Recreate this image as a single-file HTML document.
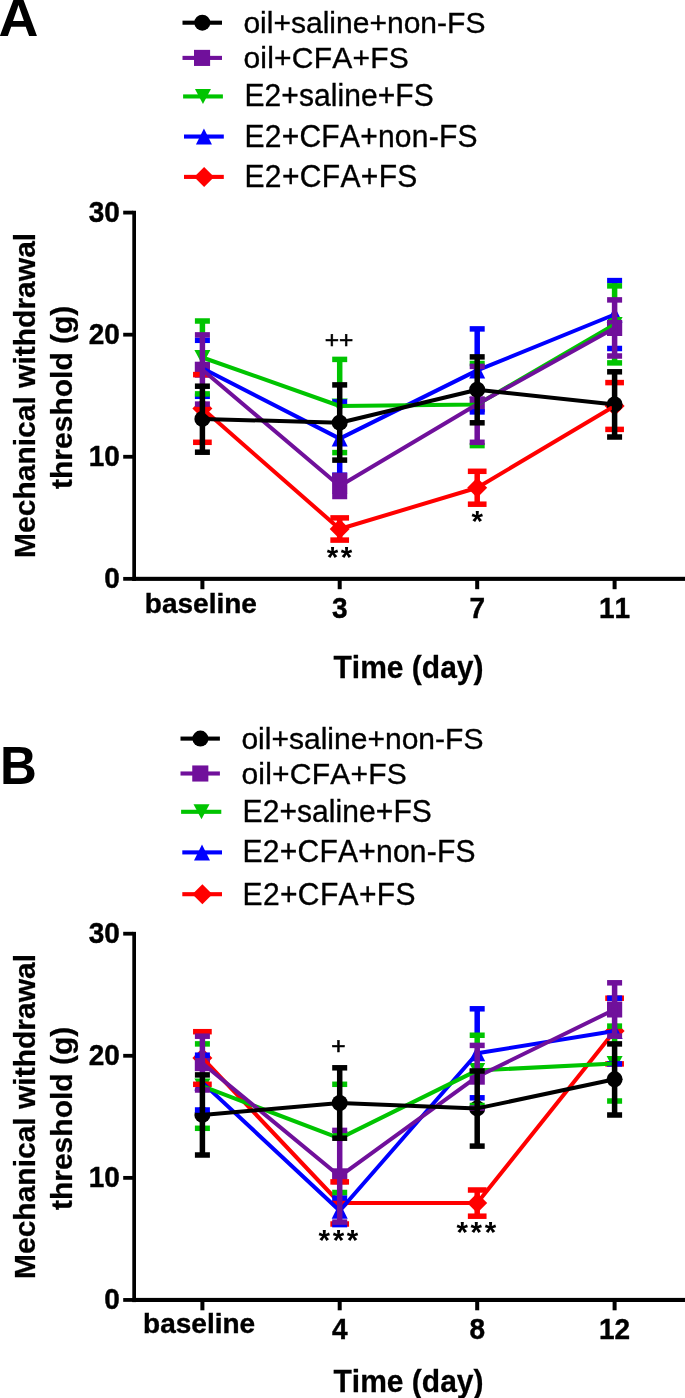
<!DOCTYPE html>
<html lang="en"><head><meta charset="utf-8"><title>Figure</title>
<style>
html,body{margin:0;padding:0;background:#fff}
svg{display:block}
text{font-kerning:none;font-family:"Liberation Sans",Arial,Helvetica,sans-serif;fill:#000}
.lg{font-size:30px;stroke:#000;stroke-width:0.35px}
.tk{font-size:28px;font-weight:bold;stroke:#000;stroke-width:0.4px}
.ax{font-size:30px;font-weight:bold;stroke:#000;stroke-width:0.25px}
.pl{font-size:51px;font-weight:bold}
.pls{font-size:24.5px;stroke:#000;stroke-width:0.6px}
.ast{font-size:29.5px;font-weight:bold;letter-spacing:2.7px}
</style></head><body>
<svg width="685" height="1398" viewBox="0 0 685 1398">
<rect width="685" height="1398" fill="#fff"/>
<rect x="182.5" y="20.65" width="39.5" height="4.1" fill="#000000"/>
<circle cx="202.3" cy="22.7" r="8" fill="#000000"/>
<text transform="translate(243.4 33)" class="lg" textLength="242">oil+saline+non-FS</text>
<rect x="182.5" y="55.85" width="39.5" height="4.1" fill="#70109b"/>
<rect x="194" y="49.85" width="16.1" height="16.1" fill="#70109b"/>
<text transform="translate(243.4 67.7) scale(1 1.01)" class="lg" textLength="165.4">oil+CFA+FS</text>
<rect x="183.1" y="94.4" width="39.8" height="4.1" fill="#00c400"/>
<polygon points="194.95,88.95 210.95,88.95 202.95,103.95" fill="#00c400"/>
<text transform="translate(244.5 106) scale(1 1.02)" class="lg" textLength="189.2">E2+saline+FS</text>
<rect x="184" y="134.5" width="39.8" height="4.1" fill="#0000ff"/>
<polygon points="195.95,144.55 211.95,144.55 203.95,128.55" fill="#0000ff"/>
<text transform="translate(244.5 146.6) scale(1 1.02)" class="lg" textLength="233">E2+CFA+non-FS</text>
<rect x="184" y="174.85" width="39.8" height="4.1" fill="#ff0000"/>
<polygon points="194.1,176.9 204.1,166.9 214.1,176.9 204.1,186.9" fill="#ff0000"/>
<text transform="translate(244.5 187.1) scale(1 1.02)" class="lg" textLength="172.9">E2+CFA+FS</text>
<g fill="#000">
<rect x="132.3" y="210.75" width="3.7" height="370.25"/>
<rect x="132.3" y="576.8" width="552.7" height="4.1"/>
<rect x="123.2" y="210.7" width="10" height="3.8"/>
<rect x="123.2" y="332.78" width="10" height="3.8"/>
<rect x="123.2" y="454.86" width="10" height="3.8"/>
<rect x="123.2" y="576.94" width="10" height="3.8"/>
<rect x="200.4" y="578.85" width="4" height="10.35"/>
<rect x="337.7" y="578.85" width="4" height="10.35"/>
<rect x="475.2" y="578.85" width="4" height="10.35"/>
<rect x="612.6" y="578.85" width="4" height="10.35"/>
</g>
<g>
<polygon points="192.4,408.6 202.4,398.6 212.4,408.6 202.4,418.6" fill="#ff0000"/>
<polygon points="329.7,529 339.7,519 349.7,529 339.7,539" fill="#ff0000"/>
<polygon points="467.2,487.75 477.2,477.75 487.2,487.75 477.2,497.75" fill="#ff0000"/>
<polygon points="604.6,406 614.6,396 624.6,406 614.6,416" fill="#ff0000"/>
<polygon points="194.4,376.3 210.4,376.3 202.4,360.3" fill="#0000ff"/>
<polygon points="331.7,446.6 347.7,446.6 339.7,430.6" fill="#0000ff"/>
<polygon points="469.2,378.4 485.2,378.4 477.2,362.4" fill="#0000ff"/>
<polygon points="606.6,322.5 622.6,322.5 614.6,306.5" fill="#0000ff"/>
<polygon points="194.4,350 210.4,350 202.4,365" fill="#00c400"/>
<polygon points="331.7,398.5 347.7,398.5 339.7,413.5" fill="#00c400"/>
<polygon points="469.2,397 485.2,397 477.2,412" fill="#00c400"/>
<polygon points="606.6,316.9 622.6,316.9 614.6,331.9" fill="#00c400"/>
<rect x="194.8" y="361.7" width="15.2" height="16" fill="#70109b"/>
<rect x="332.1" y="478" width="15.2" height="16" fill="#70109b"/>
<rect x="469.6" y="396.3" width="15.2" height="16" fill="#70109b"/>
<rect x="607" y="320" width="15.2" height="16" fill="#70109b"/>
<circle cx="202.4" cy="418.9" r="8" fill="#000000"/>
<circle cx="339.7" cy="422.7" r="8" fill="#000000"/>
<circle cx="477.2" cy="389.7" r="8" fill="#000000"/>
<circle cx="614.6" cy="404.4" r="8" fill="#000000"/>
</g>
<g fill="#ff0000" stroke="none">
<rect x="193.05" y="371.85" width="18.7" height="5.5"/>
<rect x="193.05" y="439.55" width="18.7" height="5.5"/>
<rect x="336.95" y="517.9" width="5.5" height="22.2"/>
<rect x="330.35" y="515.15" width="18.7" height="5.5"/>
<rect x="330.35" y="537.35" width="18.7" height="5.5"/>
<rect x="474.45" y="471.3" width="5.5" height="32.9"/>
<rect x="467.85" y="468.55" width="18.7" height="5.5"/>
<rect x="467.85" y="501.45" width="18.7" height="5.5"/>
<rect x="605.25" y="379.85" width="18.7" height="5.5"/>
<rect x="605.25" y="426.65" width="18.7" height="5.5"/>
</g>
<polyline points="202.4,408.6 339.7,529 477.2,487.75 614.6,406" fill="none" stroke="#ff0000" stroke-width="4" stroke-linejoin="round"/>
<g fill="#0000ff" stroke="none">
<rect x="194.9" y="337.55" width="15" height="5.5"/>
<rect x="194.9" y="393.55" width="15" height="5.5"/>
<rect x="336.95" y="459.8" width="5.5" height="15.4"/>
<rect x="332.2" y="399.25" width="15" height="5.5"/>
<rect x="332.2" y="472.45" width="15" height="5.5"/>
<rect x="474.45" y="328.9" width="5.5" height="28.3"/>
<rect x="469.7" y="326.15" width="15" height="5.5"/>
<rect x="469.7" y="409.15" width="15" height="5.5"/>
<rect x="611.85" y="280.6" width="5.5" height="5.6"/>
<rect x="607.1" y="277.85" width="15" height="5.5"/>
<rect x="607.1" y="345.75" width="15" height="5.5"/>
</g>
<polyline points="202.4,368.3 339.7,438.6 477.2,370.4 614.6,314.5" fill="none" stroke="#0000ff" stroke-width="4" stroke-linejoin="round"/>
<g fill="#00c400" stroke="none">
<rect x="199.65" y="321" width="5.5" height="14.2"/>
<rect x="194.9" y="318.25" width="15" height="5.5"/>
<rect x="194.9" y="391.15" width="15" height="5.5"/>
<rect x="336.95" y="359.4" width="5.5" height="25.8"/>
<rect x="332.2" y="356.65" width="15" height="5.5"/>
<rect x="332.2" y="449.85" width="15" height="5.5"/>
<rect x="474.45" y="442" width="5.5" height="3.6"/>
<rect x="469.7" y="360.75" width="15" height="5.5"/>
<rect x="469.7" y="442.85" width="15" height="5.5"/>
<rect x="611.85" y="285.9" width="5.5" height="14.3"/>
<rect x="611.85" y="355.7" width="5.5" height="7.2"/>
<rect x="607.1" y="283.15" width="15" height="5.5"/>
<rect x="607.1" y="360.15" width="15" height="5.5"/>
</g>
<polyline points="202.4,357.5 339.7,406 477.2,404.5 614.6,324.4" fill="none" stroke="#00c400" stroke-width="4" stroke-linejoin="round"/>
<g fill="#70109b" stroke="none">
<rect x="199.65" y="334.9" width="5.5" height="51.6"/>
<rect x="194.9" y="332.15" width="15" height="5.5"/>
<rect x="194.9" y="401.35" width="15" height="5.5"/>
<rect x="336.95" y="475.5" width="5.5" height="21"/>
<rect x="332.2" y="472.75" width="15" height="5.5"/>
<rect x="332.2" y="493.75" width="15" height="5.5"/>
<rect x="474.45" y="422.5" width="5.5" height="19.8"/>
<rect x="469.7" y="363.65" width="15" height="5.5"/>
<rect x="469.7" y="439.55" width="15" height="5.5"/>
<rect x="611.85" y="299.9" width="5.5" height="56.1"/>
<rect x="607.1" y="297.15" width="15" height="5.5"/>
<rect x="607.1" y="353.25" width="15" height="5.5"/>
</g>
<polyline points="202.4,369.7 339.7,486 477.2,404.3 614.6,328" fill="none" stroke="#70109b" stroke-width="4" stroke-linejoin="round"/>
<g fill="#000000" stroke="none">
<rect x="199.65" y="386.2" width="5.5" height="66"/>
<rect x="194.9" y="383.45" width="15" height="5.5"/>
<rect x="194.9" y="449.45" width="15" height="5.5"/>
<rect x="336.95" y="384.9" width="5.5" height="75.2"/>
<rect x="332.2" y="382.15" width="15" height="5.5"/>
<rect x="332.2" y="457.35" width="15" height="5.5"/>
<rect x="474.45" y="356.9" width="5.5" height="65.9"/>
<rect x="469.7" y="354.15" width="15" height="5.5"/>
<rect x="469.7" y="420.05" width="15" height="5.5"/>
<rect x="611.85" y="371.8" width="5.5" height="65.2"/>
<rect x="607.1" y="369.05" width="15" height="5.5"/>
<rect x="607.1" y="434.25" width="15" height="5.5"/>
</g>
<polyline points="202.4,418.9 339.7,422.7 477.2,389.7 614.6,404.4" fill="none" stroke="#000000" stroke-width="4" stroke-linejoin="round"/>
<text transform="translate(-1.4 36.4) scale(1.085 1.04)" class="pl">A</text>
<text transform="translate(119.9 221.7) scale(1 1.08)" class="tk" text-anchor="end">30</text>
<text transform="translate(119.9 343.78) scale(1 1.08)" class="tk" text-anchor="end">20</text>
<text transform="translate(119.9 465.86) scale(1 1.08)" class="tk" text-anchor="end">10</text>
<text transform="translate(119.9 587.94) scale(1 1.08)" class="tk" text-anchor="end">0</text>
<text transform="translate(200.9 612.8)" class="tk" text-anchor="middle">baseline</text>
<text transform="translate(339.7 618.2) scale(1 1.06)" class="tk" text-anchor="middle">3</text>
<text transform="translate(477.2 618.2) scale(1 1.06)" class="tk" text-anchor="middle">7</text>
<text transform="translate(614.6 618.2) scale(1 1.06)" class="tk" text-anchor="middle">11</text>
<text transform="translate(408.5 677.5) scale(1 1.02)" class="ax" text-anchor="middle">Time (day)</text>
<text transform="translate(35 395.4) rotate(-90)" class="ax" text-anchor="middle">Mechanical withdrawal</text>
<text transform="translate(72.3 397.3) rotate(-90)" class="ax" text-anchor="middle">threshold (g)</text>
<text transform="translate(339 348.4)" class="pls" text-anchor="middle">++</text>
<text transform="translate(340.85 567)" class="ast" text-anchor="middle">**</text>
<text transform="translate(478.55 530.5)" class="ast" text-anchor="middle">*</text>
<rect x="180.5" y="736.55" width="39.4" height="4.1" fill="#000000"/>
<circle cx="200.4" cy="738.6" r="8" fill="#000000"/>
<text transform="translate(241.4 749.1)" class="lg" textLength="242">oil+saline+non-FS</text>
<rect x="180.5" y="771.45" width="39.4" height="4.1" fill="#70109b"/>
<rect x="192.25" y="765.45" width="16.1" height="16.1" fill="#70109b"/>
<text transform="translate(241.4 784.1) scale(1 1.01)" class="lg" textLength="165.4">oil+CFA+FS</text>
<rect x="181.1" y="809.75" width="40.2" height="4.1" fill="#00c400"/>
<polygon points="193.5,804.3 209.5,804.3 201.5,819.3" fill="#00c400"/>
<text transform="translate(242.6 822) scale(1 1.02)" class="lg" textLength="189.2">E2+saline+FS</text>
<rect x="182.3" y="850.35" width="39.7" height="4.1" fill="#0000ff"/>
<polygon points="194,860.4 210,860.4 202,844.4" fill="#0000ff"/>
<text transform="translate(242.6 862.4) scale(1 1.02)" class="lg" textLength="233">E2+CFA+non-FS</text>
<rect x="182.3" y="892.15" width="39.7" height="4.1" fill="#ff0000"/>
<polygon points="192.4,894.2 202.4,884.2 212.4,894.2 202.4,904.2" fill="#ff0000"/>
<text transform="translate(242.6 904.5) scale(1 1.02)" class="lg" textLength="172.9">E2+CFA+FS</text>
<g fill="#000">
<rect x="132.3" y="931.85" width="3.7" height="370.25"/>
<rect x="132.3" y="1297.9" width="552.7" height="4.1"/>
<rect x="123.2" y="931.8" width="10" height="3.8"/>
<rect x="123.2" y="1053.88" width="10" height="3.8"/>
<rect x="123.2" y="1175.96" width="10" height="3.8"/>
<rect x="123.2" y="1298.04" width="10" height="3.8"/>
<rect x="200.4" y="1299.95" width="4" height="10.35"/>
<rect x="337.7" y="1299.95" width="4" height="10.35"/>
<rect x="475.2" y="1299.95" width="4" height="10.35"/>
<rect x="612.6" y="1299.95" width="4" height="10.35"/>
</g>
<g>
<polygon points="192.4,1058 202.4,1048 212.4,1058 202.4,1068" fill="#ff0000"/>
<polygon points="329.7,1203 339.7,1193 349.7,1203 339.7,1213" fill="#ff0000"/>
<polygon points="467.2,1203.1 477.2,1193.1 487.2,1203.1 477.2,1213.1" fill="#ff0000"/>
<polygon points="604.6,1031 614.6,1021 624.6,1031 614.6,1041" fill="#ff0000"/>
<polygon points="194.4,1090.6 210.4,1090.6 202.4,1074.6" fill="#0000ff"/>
<polygon points="331.7,1218.7 347.7,1218.7 339.7,1202.7" fill="#0000ff"/>
<polygon points="469.2,1061.3 485.2,1061.3 477.2,1045.3" fill="#0000ff"/>
<polygon points="606.6,1039 622.6,1039 614.6,1023" fill="#0000ff"/>
<polygon points="194.4,1078.6 210.4,1078.6 202.4,1093.6" fill="#00c400"/>
<polygon points="331.7,1130.9 347.7,1130.9 339.7,1145.9" fill="#00c400"/>
<polygon points="469.2,1062.9 485.2,1062.9 477.2,1077.9" fill="#00c400"/>
<polygon points="606.6,1056.1 622.6,1056.1 614.6,1071.1" fill="#00c400"/>
<rect x="194.8" y="1055.2" width="15.2" height="16" fill="#70109b"/>
<rect x="332.1" y="1168.3" width="15.2" height="16" fill="#70109b"/>
<rect x="469.6" y="1068.7" width="15.2" height="16" fill="#70109b"/>
<rect x="607" y="1001.5" width="15.2" height="16" fill="#70109b"/>
<circle cx="202.4" cy="1114.9" r="8" fill="#000000"/>
<circle cx="339.7" cy="1103" r="8" fill="#000000"/>
<circle cx="477.2" cy="1108.4" r="8" fill="#000000"/>
<circle cx="614.6" cy="1079.3" r="8" fill="#000000"/>
</g>
<g fill="#ff0000" stroke="none">
<rect x="199.65" y="1031.7" width="5.5" height="4.8"/>
<rect x="193.05" y="1028.95" width="18.7" height="5.5"/>
<rect x="193.05" y="1081.55" width="18.7" height="5.5"/>
<rect x="330.35" y="1179.15" width="18.7" height="5.5"/>
<rect x="330.35" y="1221.25" width="18.7" height="5.5"/>
<rect x="474.45" y="1190" width="5.5" height="26.2"/>
<rect x="467.85" y="1187.25" width="18.7" height="5.5"/>
<rect x="467.85" y="1213.45" width="18.7" height="5.5"/>
<rect x="605.25" y="995.45" width="18.7" height="5.5"/>
<rect x="605.25" y="1061.15" width="18.7" height="5.5"/>
</g>
<polyline points="202.4,1058 339.7,1203 477.2,1203.1 614.6,1031" fill="none" stroke="#ff0000" stroke-width="4" stroke-linejoin="round"/>
<g fill="#0000ff" stroke="none">
<rect x="194.9" y="1052.45" width="15" height="5.5"/>
<rect x="194.9" y="1107.25" width="15" height="5.5"/>
<rect x="336.95" y="1221.8" width="5.5" height="2.8"/>
<rect x="332.2" y="1195.25" width="15" height="5.5"/>
<rect x="332.2" y="1221.85" width="15" height="5.5"/>
<rect x="474.45" y="1008.8" width="5.5" height="26.75"/>
<rect x="469.7" y="1006.05" width="15" height="5.5"/>
<rect x="469.7" y="1095.05" width="15" height="5.5"/>
<rect x="607.1" y="995.45" width="15" height="5.5"/>
<rect x="607.1" y="1061.15" width="15" height="5.5"/>
</g>
<polyline points="202.4,1082.6 339.7,1210.7 477.2,1053.3 614.6,1031" fill="none" stroke="#0000ff" stroke-width="4" stroke-linejoin="round"/>
<g fill="#00c400" stroke="none">
<rect x="194.9" y="1041.15" width="15" height="5.5"/>
<rect x="194.9" y="1125.55" width="15" height="5.5"/>
<rect x="332.2" y="1081.55" width="15" height="5.5"/>
<rect x="332.2" y="1189.75" width="15" height="5.5"/>
<rect x="474.45" y="1035.25" width="5.5" height="10.45"/>
<rect x="469.7" y="1032.5" width="15" height="5.5"/>
<rect x="469.7" y="1102.75" width="15" height="5.5"/>
<rect x="611.85" y="1035.8" width="5.5" height="8.4"/>
<rect x="607.1" y="1023.35" width="15" height="5.5"/>
<rect x="607.1" y="1098.25" width="15" height="5.5"/>
</g>
<polyline points="202.4,1086.1 339.7,1138.4 477.2,1070.4 614.6,1063.6" fill="none" stroke="#00c400" stroke-width="4" stroke-linejoin="round"/>
<g fill="#70109b" stroke="none">
<rect x="199.65" y="1036.2" width="5.5" height="39"/>
<rect x="194.9" y="1033.45" width="15" height="5.5"/>
<rect x="194.9" y="1087.25" width="15" height="5.5"/>
<rect x="336.95" y="1137.9" width="5.5" height="84.2"/>
<rect x="332.2" y="1127.65" width="15" height="5.5"/>
<rect x="332.2" y="1219.35" width="15" height="5.5"/>
<rect x="474.45" y="1045.4" width="5.5" height="25.9"/>
<rect x="469.7" y="1042.65" width="15" height="5.5"/>
<rect x="469.7" y="1105.25" width="15" height="5.5"/>
<rect x="611.85" y="982.8" width="5.5" height="53.3"/>
<rect x="607.1" y="980.05" width="15" height="5.5"/>
<rect x="607.1" y="1033.35" width="15" height="5.5"/>
</g>
<polyline points="202.4,1063.2 339.7,1176.3 477.2,1076.7 614.6,1009.5" fill="none" stroke="#70109b" stroke-width="4" stroke-linejoin="round"/>
<g fill="#000000" stroke="none">
<rect x="199.65" y="1074.9" width="5.5" height="80.1"/>
<rect x="194.9" y="1072.15" width="15" height="5.5"/>
<rect x="194.9" y="1152.25" width="15" height="5.5"/>
<rect x="336.95" y="1067.8" width="5.5" height="70.4"/>
<rect x="332.2" y="1065.05" width="15" height="5.5"/>
<rect x="332.2" y="1135.45" width="15" height="5.5"/>
<rect x="474.45" y="1071" width="5.5" height="75.1"/>
<rect x="469.7" y="1068.25" width="15" height="5.5"/>
<rect x="469.7" y="1143.35" width="15" height="5.5"/>
<rect x="611.85" y="1043.9" width="5.5" height="71.1"/>
<rect x="607.1" y="1041.15" width="15" height="5.5"/>
<rect x="607.1" y="1112.25" width="15" height="5.5"/>
</g>
<polyline points="202.4,1114.9 339.7,1103 477.2,1108.4 614.6,1079.3" fill="none" stroke="#000000" stroke-width="4" stroke-linejoin="round"/>
<text transform="translate(0.1 783.6) scale(1 1.04)" class="pl">B</text>
<text transform="translate(119.9 942.8) scale(1 1.08)" class="tk" text-anchor="end">30</text>
<text transform="translate(119.9 1064.88) scale(1 1.08)" class="tk" text-anchor="end">20</text>
<text transform="translate(119.9 1186.96) scale(1 1.08)" class="tk" text-anchor="end">10</text>
<text transform="translate(119.9 1309.04) scale(1 1.08)" class="tk" text-anchor="end">0</text>
<text transform="translate(199.15 1332.6)" class="tk" text-anchor="middle">baseline</text>
<text transform="translate(339.7 1339.3) scale(1 1.06)" class="tk" text-anchor="middle">4</text>
<text transform="translate(477.2 1339.3) scale(1 1.06)" class="tk" text-anchor="middle">8</text>
<text transform="translate(614.6 1339.3) scale(1 1.06)" class="tk" text-anchor="middle">12</text>
<text transform="translate(408.5 1391.5) scale(1 1.02)" class="ax" text-anchor="middle">Time (day)</text>
<text transform="translate(35 1116.5) rotate(-90)" class="ax" text-anchor="middle">Mechanical withdrawal</text>
<text transform="translate(72.3 1118.4) rotate(-90)" class="ax" text-anchor="middle">threshold (g)</text>
<text transform="translate(338.5 1054)" class="pls" text-anchor="middle">+</text>
<text transform="translate(339.75 1250.3)" class="ast" text-anchor="middle">***</text>
<text transform="translate(477.65 1241.9)" class="ast" text-anchor="middle">***</text>
</svg>
</body></html>
